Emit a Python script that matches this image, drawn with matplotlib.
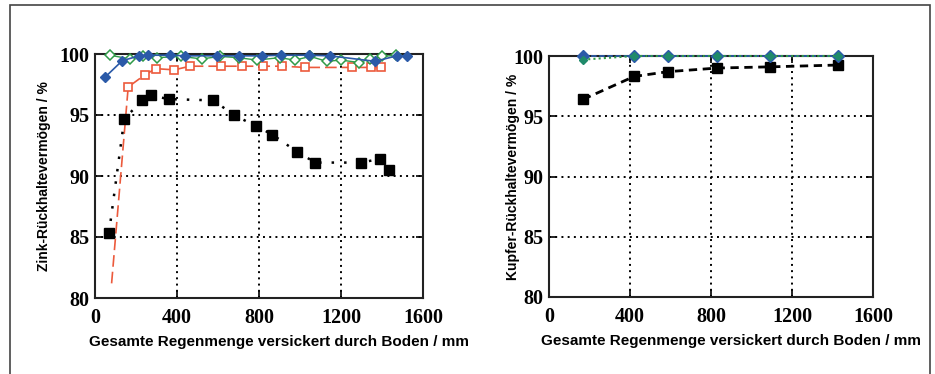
import matplotlib
matplotlib.use("Agg")
import matplotlib.pyplot as plt
from matplotlib.patches import Rectangle

# ---------------- data (left panel: Zink) ----------------
zn_black_x = [68, 143, 231, 273, 361, 577, 678, 784, 865, 984, 1075, 1298, 1390, 1434]
zn_black_y = [85.3, 94.7, 96.2, 96.6, 96.3, 96.2, 95.0, 94.1, 93.4, 92.0, 91.1, 91.1, 91.4, 90.5]

zn_red_x = [81, 162, 244, 296, 387, 463, 615, 719, 821, 914, 1024, 1252, 1346, 1393]
zn_red_y = [81.2, 97.3, 98.3, 98.8, 98.7, 99.0, 99.0, 99.0, 99.0, 99.0, 98.9, 98.9, 98.9, 98.9]

zn_blue_x = [49, 133, 215, 260, 366, 439, 594, 702, 813, 906, 1044, 1146, 1366, 1472, 1520]
zn_blue_y = [98.1, 99.45, 99.85, 99.9, 99.9, 99.85, 99.85, 99.85, 99.85, 99.9, 99.9, 99.85, 99.4, 99.85, 99.85]

zn_green_x = [73, 170, 235, 300, 420, 520, 610, 700, 790, 900, 975, 1050, 1130, 1200, 1290, 1340, 1400, 1470]
zn_green_y = [99.9, 99.6, 99.8, 99.7, 99.8, 99.6, 99.8, 99.7, 99.5, 99.7, 99.5, 99.8, 99.4, 99.5, 99.3, 99.6, 99.8, 99.9]

# ---------------- data (right panel: Kupfer) ----------------
cu_x = [168, 420, 588, 830, 1091, 1427]
cu_black_y = [96.4, 98.3, 98.7, 99.0, 99.1, 99.25]
cu_blue_y = [100.0, 100.0, 100.0, 100.0, 100.0, 100.0]
cu_green_y = [99.7, 100.0, 100.0, 100.0, 100.0, 100.0]

xticks = [0, 400, 800, 1200, 1600]
yticks = [80, 85, 90, 95, 100]
xlabel = "Gesamte Regenmenge versickert durch Boden / mm"
ylabel_zn = "Zink-Rückhaltevermögen / %"
ylabel_cu = "Kupfer-Rückhaltevermögen / %"

RED = "#ec5a3c"
BLUE = "#2b5aa8"
GREEN = "#2f9a48"
TEAL = "#1f8a6a"

fig = plt.figure(figsize=(9.35, 3.74), dpi=100)
fig.patches.append(Rectangle((10 / 935, -0.02), 920 / 935, 1 - 5 / 374 + 0.02,
                             transform=fig.transFigure, fill=False,
                             edgecolor="#444444", linewidth=1.2))

ax1 = fig.add_axes([95 / 935, 1 - 298 / 374, 328 / 935, 244 / 374])
ax2 = fig.add_axes([549 / 935, 1 - 297 / 374, 324 / 935, 241 / 374])

tick_font = dict(family="Liberation Serif", weight="bold", size=14.5)
xlabel_font = dict(family="Liberation Sans", weight="bold", size=11)
ylabel_font = dict(family="Liberation Sans", weight="bold", size=10)

for ax, yl, lp, wpx, hpx in ((ax1, ylabel_zn, 6, 328, 244), (ax2, ylabel_cu, -5, 324, 241)):
    ax.set_xlim(0, 1600)
    ax.set_ylim(80, 100)
    ax.set_xticks(xticks)
    ax.set_yticks(yticks)
    ax.set_xticklabels([str(t) for t in xticks], fontdict=tick_font)
    ax.set_yticklabels([str(t) for t in yticks], fontdict=tick_font)
    ax.tick_params(direction="in", length=5, width=1.2, top=True, right=True)
    ax.tick_params(axis="x", pad=7)
    ax.tick_params(axis="y", pad=4)
    for s in ax.spines.values():
        s.set_linewidth(1.5)
        s.set_color("#222222")
    for gx in xticks[1:-1]:
        ax.axvline(gx, color="black", linestyle=(0, (1, 2.2)), linewidth=1.4, zorder=1)
    for gy in yticks[1:-1]:
        ax.axhline(gy, color="black", linestyle=(0, (1, 2.2)), linewidth=1.4, zorder=1)
    ax.set_xlabel(xlabel, fontdict=xlabel_font)
    ax.xaxis.set_label_coords(0.5 + 20 / wpx, -37 / hpx)
    ax.set_ylabel(yl, fontdict=ylabel_font, labelpad=lp)

# left panel
ax1.plot(zn_black_x, zn_black_y, color="black", linestyle=(0, (1, 4)), linewidth=1.8,
         marker="s", markersize=7, markerfacecolor="black", zorder=4)
ax1.plot(zn_red_x, zn_red_y, color=RED, linestyle=(0, (7, 3)), linewidth=1.2,
         marker="s", markersize=6, markerfacecolor="white", markeredgecolor=RED,
         markeredgewidth=1.2, markevery=list(range(1, len(zn_red_x))), zorder=3)
ax1.plot(zn_green_x, zn_green_y, color=GREEN, linestyle="-", linewidth=1.0,
         marker="D", markersize=5, markerfacecolor="white", markeredgecolor=GREEN,
         markeredgewidth=1.1, zorder=5, clip_on=False)
ax1.plot(zn_blue_x, zn_blue_y, color=BLUE, linestyle="-", linewidth=1.2,
         marker="D", markersize=5.5, markerfacecolor=BLUE, markeredgecolor=BLUE,
         zorder=6, clip_on=False)

# right panel
ax2.plot(cu_x, cu_black_y, color="black", linestyle=(0, (3, 2)), linewidth=2.0,
         marker="s", markersize=7, markerfacecolor="black", zorder=4)
ax2.plot(cu_x, cu_blue_y, color=BLUE, linestyle=(0, (3, 1.5)), linewidth=1.3,
         marker="D", markersize=6, markerfacecolor=BLUE, markeredgecolor=BLUE,
         zorder=5, clip_on=False)
ax2.plot(cu_x, cu_green_y, color=GREEN, linestyle=(0, (1, 1.5)), linewidth=1.5,
         marker="D", markersize=4.5, markerfacecolor=TEAL, markeredgecolor=TEAL,
         zorder=6, clip_on=False)

fig.savefig("out.png", dpi=100)
